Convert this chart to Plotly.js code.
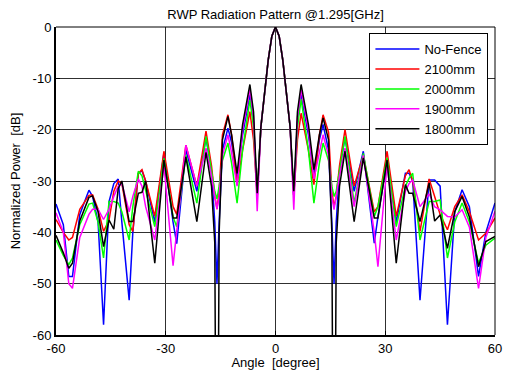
<!DOCTYPE html>
<html>
<head>
<meta charset="utf-8">
<script src="https://cdn.plot.ly/plotly-3.0.1.min.js"></script>
<style>html,body{margin:0;padding:0;background:#fff;}#chart{width:505px;height:370px;}</style>
</head>
<body>
<div id="chart"></div>
<script>
// Angle samples [degree] (left outer | centre | right outer)
const angle = [
  -60, -58, -56.5, -55.5, -53.5, -51, -50, -48.5, -47, -45.5, -44.2, -43, -42, -40, -39, -37.5, -36.5, -35.5, -33, -30.5, -28, -27, -24.5, -21.5, -19,
  -17.5, -16.6, -16, -15.4, -14.5, -13, -12, -10.5, -9, -7, -6, -5, -4, -3, -2, -1, 0, 1, 2, 3, 4, 5, 6, 7, 9, 10.5, 12, 13, 14.5, 15.4, 16, 16.6, 17.5,
  19, 21.5, 24, 27, 28, 30.5, 33, 35.5, 36.5, 37.5, 39.5, 42, 43.5, 45, 47, 49, 51, 53, 55.5, 57.5, 60
];

const seriesNames = ['No-Fence', '2100mm', '2000mm', '1900mm', '1800mm'];

// Normalized power [dB]
const noFence = [
  -34.5, -38.5, -48.6, -48.6, -36.5, -31.8, -33, -38, -58, -34, -30.5, -29.6, -38, -53.2, -40, -28.5, -28, -30, -38, -24.5, -38, -42.2, -23.9, -32, -21.6,
  -28, -38, -50, -38, -24, -19.7, -22.5, -29.5, -21, -13.2, -18.5, -33, -19.5, -13, -6.5, -1.8, 0, -1.8, -6.5, -13, -19.5, -33, -18.5, -13.2, -21, -29, -22, -19, -24, -38, -50, -38, -28,
  -21.5, -32, -24.2, -42.1, -37, -26, -38, -28.5, -28.5, -30, -53.2, -29.8, -29.8, -31, -58, -36, -31.7, -35, -48.6, -40, -34.3
];
const mm2100 = [
  -37.5, -40, -41.5, -41, -35.5, -32.8, -32.7, -35.5, -39.8, -37.6, -32, -30, -30.5, -38.5, -39.8, -28.5, -27.8, -30, -36.9, -24.2, -35, -36.5, -23, -31, -20.3,
  -27, -33, -35.5, -32, -21, -17.1, -21, -30.7, -24, -16.5, -22, -33, -19.5, -13, -6.5, -1.8, 0, -1.8, -6.5, -13, -19.5, -33, -22, -16.8, -24, -30.7, -21, -17.1, -20.5, -32, -35, -33, -27,
  -20, -31, -25, -36, -35, -24.2, -36.9, -29, -27.8, -30, -39.8, -29.6, -33, -36.5, -39.5, -35, -32.7, -36, -41.5, -40.2, -37.2
];
const mm2000 = [
  -41.5, -44.5, -46.3, -45, -38.5, -34.5, -34.3, -38, -45, -34, -34, -34.3, -36, -41.5, -35, -28.1, -29, -32, -38.9, -25.6, -37, -38.9, -24.9, -34.3, -21.3,
  -28, -32, -33.5, -31, -26, -22.6, -26.5, -34.3, -24, -14.2, -19.5, -33, -19.5, -13, -6.5, -1.8, 0, -1.8, -6.5, -13, -19.5, -33, -19.5, -14, -24, -34.3, -26.5, -22.6, -26, -31, -33, -32, -28,
  -21.3, -34.3, -24.6, -36.9, -35, -25.5, -38.9, -31, -29.5, -28.5, -41.5, -34, -34, -33.7, -45, -38, -34.3, -38, -46, -42.5, -41.1
];
const mm1900 = [
  -36.2, -40, -50, -50.9, -41, -36.5, -35.5, -35.5, -37.5, -35.5, -33, -31, -30.5, -36, -33, -29.6, -31, -35, -41.5, -26.8, -46.5, -40, -23, -31, -23.6,
  -29, -33, -35.5, -33, -25, -21, -24.5, -31, -20, -12.2, -17.5, -35.9, -19.5, -13, -6.5, -1.8, 0, -1.8, -6.5, -13, -19.5, -35.6, -17.5, -12.2, -20, -29.6, -24.5, -21, -25, -33, -35.6, -33, -29,
  -23.6, -35, -25, -40, -46.7, -26.8, -41.5, -32, -30.5, -29.8, -35, -32.5, -35, -35.6, -36.9, -37, -35.6, -39, -50.9, -41, -35.9
];
const mm1800 = [
  -40.6, -44, -47, -46, -37.8, -33.2, -32.9, -36, -42.8, -37.6, -39.4, -31.5, -30, -37.9, -37.9, -32.4, -32.2, -30, -46, -25.9, -37.2, -37.2, -25.3, -37.9, -24.4,
  -31, -42, -120, -40, -22, -17.4, -21, -28.5, -19, -11.2, -16.5, -32.4, -19.5, -13, -6.5, -1.8, 0, -1.8, -6.5, -13, -19.5, -32, -16.5, -11.2, -19, -27.8, -21, -17.7, -22, -40, -120, -42, -31,
  -24.2, -37.9, -25.5, -37.2, -37.2, -25.9, -46, -30.7, -32.4, -32.4, -37.9, -30.4, -37.8, -36.6, -43.1, -36, -33, -37, -46.7, -41.8, -40.8
];

const xTickVals = [-60, -30, 0, 30, 60];
const xTickText = ['-60', '-30', '0', '30', '60'];
const yTickVals = [0, -10, -20, -30, -40, -50, -60];
const yTickText = ['0', '-10', '-20', '-30', '-40', '-50', '-60'];

const values = [noFence, mm2100, mm2000, mm1900, mm1800];
const colors = ['#0000ff', '#ff0000', '#00ff00', '#ff00ff', '#000000'];

const FONT = 'Liberation Sans, Arial, Helvetica, sans-serif';

const traces = values.map((v, i) => ({
  x: angle,
  y: v,
  name: seriesNames[i],
  type: 'scatter',
  mode: 'lines',
  line: {color: colors[i], width: 1.5},
  hoverinfo: 'skip'
}));

const layout = {
  width: 505,
  height: 370,
  margin: {l: 56, r: 10, t: 27, b: 35, pad: 0},
  paper_bgcolor: '#ffffff',
  plot_bgcolor: '#ffffff',
  font: {family: FONT, size: 13, color: '#000'},
  title: {
    text: 'RWP Radiation Pattern @1.295[GHz]',
    font: {family: FONT, size: 13, color: '#000'},
    xref: 'paper', x: 0.5, xanchor: 'center',
    yref: 'container', y: 1 - 14 / 370, yanchor: 'middle'
  },
  showlegend: true,
  legend: {
    x: 0.985, xanchor: 'right',
    y: 0.98, yanchor: 'top',
    bgcolor: '#ffffff',
    bordercolor: '#000000',
    borderwidth: 1,
    itemwidth: 44,
    font: {family: FONT, size: 13, color: '#000'},
    tracegroupgap: 0
  },
  xaxis: {
    range: [-60, 60],
    tickmode: 'array', tickvals: xTickVals, ticktext: xTickText,
    showgrid: true, gridcolor: '#303030', gridwidth: 1,
    zeroline: false,
    showline: true, linecolor: '#000', linewidth: 2,
    ticks: 'inside', ticklen: 4, tickcolor: '#000',
    tickfont: {family: FONT, size: 13, color: '#000'},
    title: {text: 'Angle  [degree]', font: {family: FONT, size: 13, color: '#000'}, standoff: 1},
    fixedrange: true
  },
  yaxis: {
    range: [-60, 0],
    tickmode: 'array', tickvals: yTickVals, ticktext: yTickText,
    showgrid: true, gridcolor: '#303030', gridwidth: 1,
    zeroline: false,
    showline: true, linecolor: '#000', linewidth: 2,
    ticks: 'inside', ticklen: 4, tickcolor: '#000',
    tickfont: {family: FONT, size: 13, color: '#000'},
    title: {text: 'Normalized Power  [dB]', font: {family: FONT, size: 13, color: '#000'}, standoff: 9},
    fixedrange: true
  },
  shapes: [
    {type: 'line', xref: 'paper', yref: 'paper', x0: 0, x1: 1, y0: 1, y1: 1, line: {color: '#000', width: 1}},
    {type: 'line', xref: 'paper', yref: 'paper', x0: 1, x1: 1, y0: 0, y1: 1, line: {color: '#000', width: 1}}
  ]
};

Plotly.newPlot('chart', traces, layout, {displayModeBar: false, staticPlot: true});
</script>
</body>
</html>
